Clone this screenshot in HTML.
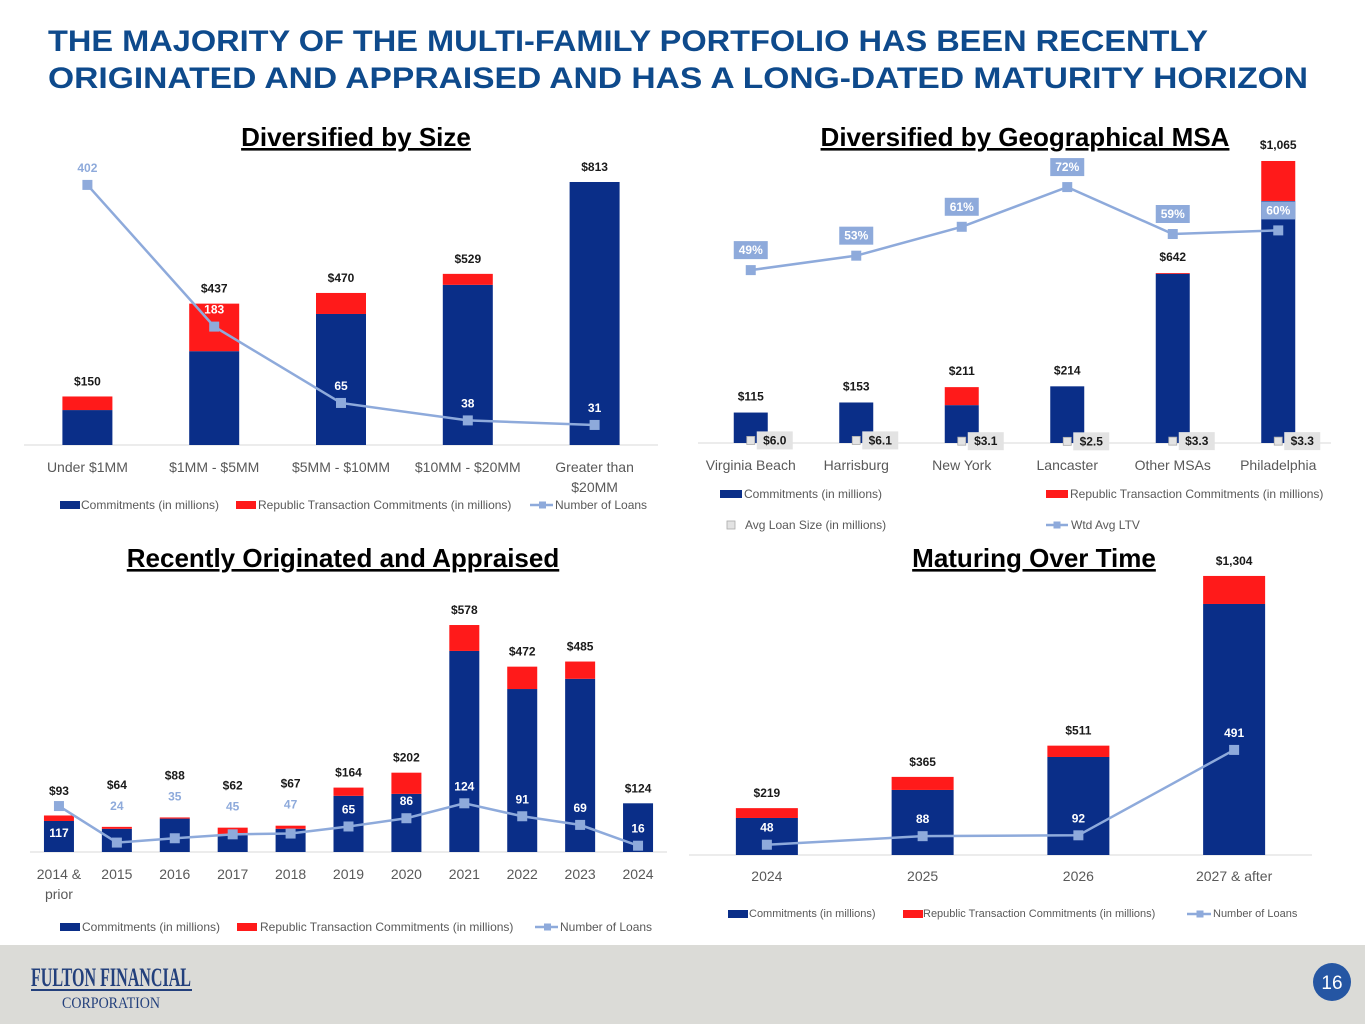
<!DOCTYPE html>
<html><head><meta charset="utf-8"><style>
html,body{margin:0;padding:0;background:#fff;}
svg{display:block;font-family:"Liberation Sans",sans-serif;}
</style></head><body>
<svg id="root" width="1365" height="1024" viewBox="0 0 1365 1024" xmlns="http://www.w3.org/2000/svg">
<rect x="0" y="945" width="1365" height="79" fill="#dbdbd7"/>
<text x="48" y="51" font-size="30" font-weight="bold" fill="#0e4a8c" textLength="1160" lengthAdjust="spacingAndGlyphs">THE MAJORITY OF THE MULTI-FAMILY PORTFOLIO HAS BEEN RECENTLY</text>
<text x="48" y="88" font-size="30" font-weight="bold" fill="#0e4a8c" textLength="1260" lengthAdjust="spacingAndGlyphs">ORIGINATED AND APPRAISED AND HAS A LONG-DATED MATURITY HORIZON</text>
<text x="356" y="146" font-size="26" font-weight="bold" fill="#000" text-anchor="middle" text-decoration="underline">Diversified by Size</text>
<text x="1025" y="146" font-size="26" font-weight="bold" fill="#000" text-anchor="middle" text-decoration="underline">Diversified by Geographical MSA</text>
<text x="343" y="567" font-size="26" font-weight="bold" fill="#000" text-anchor="middle" text-decoration="underline">Recently Originated and Appraised</text>
<text x="1034" y="567" font-size="26" font-weight="bold" fill="#000" text-anchor="middle" text-decoration="underline">Maturing Over Time</text>
<g>
<text x="31" y="986" font-family="Liberation Serif,serif" font-size="26" font-weight="bold" fill="#23407c" textLength="160" lengthAdjust="spacingAndGlyphs">FULTON FINANCIAL</text>
<rect x="31" y="989" width="161" height="2" fill="#23407c"/>
<text x="111" y="1008" font-family="Liberation Serif,serif" font-size="16" fill="#23407c" text-anchor="middle" textLength="98" lengthAdjust="spacingAndGlyphs">CORPORATION</text>
</g>
<circle cx="1332" cy="982" r="19" fill="#2556a3"/>
<text x="1332" y="989" font-size="19" fill="#fff" text-anchor="middle">16</text>
<g id="charts"></g>
</svg>
<script>
// ---- Chart 1: Diversified by Size ----
const c1Cats = ['Under $1MM', '$1MM - $5MM', '$5MM - $10MM', '$10MM - $20MM', 'Greater than|$20MM'];
const c1Commit = [108, 290, 405, 495, 813];
const c1Rep = [42, 147, 65, 34, 0];
const c1Totals = ['$150', '$437', '$470', '$529', '$813'];
const c1Loans = [402, 183, 65, 38, 31];
const c1LoanPos = ['above', 'above', 'above', 'above', 'above'];
// ---- Chart 2: Geographical MSA ----
const c2Cats = ['Virginia Beach', 'Harrisburg', 'New York', 'Lancaster', 'Other MSAs', 'Philadelphia'];
const c2Commit = [115, 153, 143, 214, 639, 914];
const c2Rep = [0, 0, 68, 0, 3, 151];
const c2Totals = ['$115', '$153', '$211', '$214', '$642', '$1,065'];
const c2Avg = [6.0, 6.1, 3.1, 2.5, 3.3, 3.3];
const c2Ltv = [49, 53, 61, 72, 59, 60];
// ---- Chart 3: Recently Originated ----
const c3Cats = ['2014 &|prior', '2015', '2016', '2017', '2018', '2019', '2020', '2021', '2022', '2023', '2024'];
const c3Commit = [79, 59, 85, 46, 59, 143, 148, 512, 415, 441, 124];
const c3Rep = [14, 5, 3, 16, 8, 21, 54, 66, 57, 44, 0];
const c3Totals = ['$93', '$64', '$88', '$62', '$67', '$164', '$202', '$578', '$472', '$485', '$124'];
const c3Loans = [117, 24, 35, 45, 47, 65, 86, 124, 91, 69, 16];
const c3LoanPos = ['below', 'overbar', 'overbar', 'overbar', 'overbar', 'above', 'above', 'above', 'above', 'above', 'above'];
// ---- Chart 4: Maturing ----
const c4Cats = ['2024', '2025', '2026', '2027 & after'];
const c4Commit = [173, 304, 458, 1173];
const c4Rep = [46, 61, 53, 131];
const c4Totals = ['$219', '$365', '$511', '$1,304'];
const c4Loans = [48, 88, 92, 491];
const c4LoanPos = ['above', 'above', 'above', 'above'];

const NS = 'http://www.w3.org/2000/svg';
const BLUE = '#0a2e88', RED = '#ff1a1a', LINE = '#8eaadb', GRAY = '#595959';
const root = document.getElementById('charts');
function el(tag, attrs, parent) {
  const e = document.createElementNS(NS, tag);
  for (const k in attrs) e.setAttribute(k, attrs[k]);
  (parent || root).appendChild(e);
  return e;
}
function txt(parent, x, y, s, size, fill, weight, anchor) {
  const t = el('text', {x: x, y: y, 'font-size': size, fill: fill, 'font-weight': weight || 'normal', 'text-anchor': anchor || 'middle', 'dominant-baseline': 'central'}, parent);
  t.textContent = s;
  return t;
}
function bandX(x0, x1, n) { const b = (x1 - x0) / n; return i => x0 + b * (i + 0.5); }
function linY(base, k) { return v => base - v * k; }

function legend3(g, y, xs, size) {
  const a = el('rect', {x: xs[0], y: y - 4, width: 20, height: 8, fill: BLUE}, g);
  
  
  const at = txt(g, xs[1], y, 'Commitments (in millions)', size, GRAY, 'normal', 'start');
  
  
  const b = el('rect', {x: xs[2], y: y - 4, width: 20, height: 8, fill: RED}, g);
  
  
  const bt = txt(g, xs[3], y, 'Republic Transaction Commitments (in millions)', size, GRAY, 'normal', 'start');
  
  
  const l = el('line', {x1: xs[4], y1: y, x2: xs[5] - 2, y2: y, stroke: LINE, 'stroke-width': 2.5}, g);
  
  
  const m = el('rect', {x: (xs[4] + xs[5]) / 2 - 3.5, y: y - 3.5, width: 7, height: 7, fill: LINE}, g);
  
  
  const lt = txt(g, xs[5], y, 'Number of Loans', size, GRAY, 'normal', 'start');
  
  
}

function barLineChart(o) {
  const g = el('g', {});
  
  
  const X = bandX(o.x0, o.x1, o.cats.length);
  const Y = linY(o.base, o.k);
  const LY = linY(o.base, o.loanK);
  const ax = el('line', {x1: o.x0, y1: o.base, x2: o.x1, y2: o.base, stroke: '#d9d9d9', 'stroke-width': 1}, g);
  
  
  const pts = [];
  o.cats.forEach((c, i) => {
    const cx = X(i), w = o.bw;
    const bTop = Y(o.commit[i]);
    const r1 = el('rect', {x: cx - w / 2, y: bTop, width: w, height: o.base - bTop, fill: BLUE}, g);
    
    
    const tTop = Y(o.commit[i] + o.rep[i]);
    if (o.rep[i] > 0) {
      const r2 = el('rect', {x: cx - w / 2, y: tTop, width: w, height: bTop - tTop, fill: RED}, g);
      
      
    }
    const py = LY(o.loans[i]);
    pts.push([cx, py]);
    const lines = c.split('|');
    lines.forEach((s, j) => {
      const ct = txt(g, cx, o.catY + j * 20, s, o.catSize, GRAY);
      
      
    });
    let ly, lc;
    const pos = o.loanPos[i];
    if (pos === 'below') { ly = py + 27; lc = '#fff'; }
    else if (pos === 'overbar') { ly = tTop - 21; lc = LINE; }
    else { ly = py - 17; lc = (ly - 4 > tTop) ? '#fff' : LINE; }
    const lt = txt(g, cx, ly, String(o.loans[i]), 12, lc, 'bold');
    
    
    let ref = tTop;
    if (py < ref && tTop - py < 40) ref = py;
    if (ly < ref && tTop - ly < 40) ref = ly - 6;
    const tt = txt(g, cx, ref - 15, o.totals[i], 12, '#1a1a1a', 'bold');
    
    
  });
  const pl = el('polyline', {points: pts.map(p => p.join(',')).join(' '), fill: 'none', stroke: LINE, 'stroke-width': 2.5}, g);
  
  
  pts.forEach(p => {
    const m = el('rect', {x: p[0] - 5, y: p[1] - 5, width: 10, height: 10, fill: LINE}, g);
    
    
  });
  g.querySelectorAll('text').forEach(t => g.appendChild(t));
  legend3(g, o.legY, o.legX, o.legSize);
}

barLineChart({name: 'size-chart', cats: c1Cats, commit: c1Commit, rep: c1Rep, totals: c1Totals, loans: c1Loans, loanPos: c1LoanPos,
  x0: 24, x1: 658, base: 445, k: 0.3235, loanK: 0.647, bw: 50, catY: 467, catSize: 14, legY: 505, legX: [60, 81, 236, 258, 530, 555], legSize: 12});
barLineChart({name: 'originated-chart', cats: c3Cats, commit: c3Commit, rep: c3Rep, totals: c3Totals, loans: c3Loans, loanPos: c3LoanPos,
  x0: 30, x1: 667, base: 852, k: 0.3927, loanK: 0.3927, bw: 30, catY: 874, catSize: 14, legY: 927, legX: [60, 82, 237, 260, 535, 560], legSize: 12});
barLineChart({name: 'maturing-chart', cats: c4Cats, commit: c4Commit, rep: c4Rep, totals: c4Totals, loans: c4Loans, loanPos: c4LoanPos,
  x0: 689, x1: 1312, base: 855, k: 0.214, loanK: 0.214, bw: 62, catY: 876, catSize: 14, legY: 914, legX: [728, 749, 903, 923, 1187, 1213], legSize: 11});

(function () {
  const g = el('g', {});
  
  
  const X = bandX(698, 1331, c2Cats.length);
  const Y = linY(443, 0.2648);
  const L = linY(447, 3.61);
  const ax = el('line', {x1: 698, y1: 443, x2: 1331, y2: 443, stroke: '#d9d9d9'}, g);
  
  
  const pts = [];
  c2Cats.forEach((c, i) => {
    const cx = X(i), w = 34;
    const bTop = Y(c2Commit[i]);
    const r1 = el('rect', {x: cx - w / 2, y: bTop, width: w, height: 443 - bTop, fill: BLUE}, g);
    
    
    const tTop = Y(c2Commit[i] + c2Rep[i]);
    if (c2Rep[i] > 0) {
      const r2 = el('rect', {x: cx - w / 2, y: tTop, width: w, height: bTop - tTop, fill: RED}, g);
      
      
    }
    const tt = txt(g, cx, tTop - 16, c2Totals[i], 12, '#1a1a1a', 'bold');
    
    
    const ct = txt(g, cx, 465, c, 14, GRAY);
    
    
    pts.push([cx, L(c2Ltv[i])]);
  });
  const pl = el('polyline', {points: pts.map(p => p.join(',')).join(' '), fill: 'none', stroke: LINE, 'stroke-width': 2.5}, g);
  
  
  pts.forEach((p, i) => {
    const m = el('rect', {x: p[0] - 5, y: p[1] - 5, width: 10, height: 10, fill: LINE}, g);
    
    
    const b = el('rect', {x: p[0] - 17, y: p[1] - 29, width: 34, height: 18, fill: LINE}, g);
    
    
    const t = txt(g, p[0], p[1] - 20, c2Ltv[i] + '%', 12, '#fff', 'bold');
    
    
    const ay = Y(c2Avg[i]) - 1;
    const lb = el('rect', {x: p[0] + 6, y: ay - 9, width: 36, height: 18, fill: '#e3e3e3'}, g);
    
    
    const am = el('rect', {x: p[0] - 4, y: ay - 4, width: 8, height: 8, fill: '#e3e3e3', stroke: '#aaa', 'stroke-width': 0.8}, g);
    
    
    const at = txt(g, p[0] + 24, ay, '$' + c2Avg[i].toFixed(1), 12, '#1a1a1a', 'bold');
    
    
  });
  const s1 = el('rect', {x: 720, y: 490, width: 22, height: 8, fill: BLUE}, g);
  
  
  const t1 = txt(g, 744, 494, 'Commitments (in millions)', 12, GRAY, 'normal', 'start');
  
  
  const s2 = el('rect', {x: 1046, y: 490, width: 22, height: 8, fill: RED}, g);
  
  
  const t2 = txt(g, 1070, 494, 'Republic Transaction Commitments (in millions)', 12, GRAY, 'normal', 'start');
  
  
  const s3 = el('rect', {x: 727, y: 521, width: 8, height: 8, fill: '#e3e3e3', stroke: '#aaa', 'stroke-width': 0.8}, g);
  
  
  const t3 = txt(g, 745, 525, 'Avg Loan Size (in millions)', 12, GRAY, 'normal', 'start');
  
  
  const s4 = el('line', {x1: 1046, y1: 525, x2: 1068, y2: 525, stroke: LINE, 'stroke-width': 2.5}, g);
  
  
  const s5 = el('rect', {x: 1053.5, y: 521.5, width: 7, height: 7, fill: LINE}, g);
  
  
  const t4 = txt(g, 1071, 525, 'Wtd Avg LTV', 12, GRAY, 'normal', 'start');
  
  
})();
</script>
</body></html>
